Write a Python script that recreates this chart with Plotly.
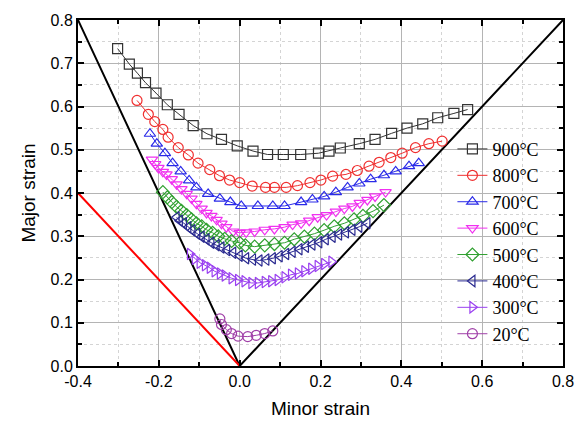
import plotly.graph_objects as go

# ---- data ----
x900 = [-0.302,-0.273,-0.253,-0.233,-0.207,-0.179,-0.150,-0.115,-0.081,-0.045,-0.006,0.033,0.069,0.108,0.151,0.195,0.221,0.249,0.296,0.335,0.376,0.414,0.453,0.490,0.530,0.564]
y900 = [0.734,0.698,0.677,0.655,0.631,0.604,0.582,0.556,0.537,0.524,0.509,0.497,0.489,0.489,0.489,0.492,0.497,0.504,0.514,0.524,0.538,0.550,0.560,0.574,0.584,0.593]

x800 = [-0.254,-0.226,-0.210,-0.190,-0.177,-0.152,-0.127,-0.103,-0.074,-0.050,-0.025,0.000,0.031,0.064,0.086,0.115,0.143,0.174,0.201,0.230,0.263,0.291,0.320,0.345,0.374,0.402,0.435,0.468,0.501]
y800 = [0.614,0.582,0.565,0.547,0.529,0.505,0.488,0.469,0.454,0.440,0.430,0.424,0.416,0.413,0.413,0.413,0.417,0.424,0.430,0.439,0.443,0.452,0.462,0.471,0.482,0.492,0.505,0.514,0.520]

x700 = [-0.222,-0.205,-0.185,-0.166,-0.146,-0.125,-0.107,-0.078,-0.049,-0.023,0.004,0.045,0.082,0.111,0.152,0.180,0.209,0.238,0.267,0.296,0.324,0.357,0.386,0.419,0.443]
y700 = [0.537,0.514,0.492,0.469,0.450,0.429,0.413,0.398,0.387,0.379,0.370,0.370,0.370,0.370,0.379,0.385,0.392,0.402,0.413,0.422,0.432,0.441,0.450,0.462,0.469]

x600 = [-0.217,-0.209,-0.201,-0.190,-0.181,-0.168,-0.156,-0.144,-0.131,-0.119,-0.107,-0.094,-0.082,-0.070,-0.057,-0.045,-0.033,-0.016,0.000,0.016,0.037,0.062,0.086,0.111,0.131,0.152,0.172,0.193,0.215,0.238,0.259,0.279,0.297,0.316,0.335,0.361]
y600 = [0.477,0.467,0.458,0.449,0.443,0.432,0.420,0.409,0.398,0.387,0.375,0.364,0.354,0.347,0.338,0.329,0.321,0.311,0.308,0.309,0.311,0.315,0.317,0.321,0.327,0.330,0.336,0.344,0.349,0.357,0.364,0.369,0.377,0.384,0.392,0.402]

x500 = [-0.190,-0.179,-0.168,-0.156,-0.144,-0.131,-0.119,-0.107,-0.094,-0.082,-0.067,-0.053,-0.037,-0.020,0.000,0.014,0.037,0.062,0.086,0.111,0.135,0.160,0.185,0.209,0.234,0.259,0.283,0.305,0.330,0.357]
y500 = [0.402,0.390,0.379,0.368,0.359,0.349,0.339,0.330,0.323,0.315,0.308,0.300,0.294,0.289,0.285,0.279,0.276,0.279,0.282,0.285,0.293,0.299,0.306,0.314,0.323,0.330,0.339,0.347,0.358,0.372]

x400 = [-0.156,-0.148,-0.138,-0.127,-0.117,-0.105,-0.094,-0.082,-0.070,-0.057,-0.045,-0.031,-0.016,0.000,0.016,0.033,0.049,0.066,0.082,0.099,0.115,0.131,0.148,0.164,0.180,0.197,0.213,0.230,0.246,0.263,0.279,0.296,0.316]
y400 = [0.344,0.336,0.330,0.321,0.314,0.306,0.299,0.293,0.285,0.279,0.274,0.268,0.262,0.255,0.249,0.246,0.244,0.246,0.249,0.254,0.259,0.264,0.270,0.276,0.281,0.286,0.293,0.299,0.304,0.309,0.315,0.322,0.330]

x300 = [-0.123,-0.111,-0.099,-0.086,-0.074,-0.062,-0.049,-0.037,-0.020,-0.004,0.012,0.029,0.045,0.062,0.078,0.094,0.111,0.127,0.144,0.160,0.177,0.193,0.209,0.227]
y300 = [0.259,0.248,0.239,0.233,0.227,0.219,0.214,0.209,0.203,0.199,0.196,0.192,0.192,0.194,0.196,0.199,0.205,0.211,0.214,0.219,0.225,0.231,0.236,0.241]

x20 = [-0.049,-0.045,-0.033,-0.020,-0.004,0.020,0.041,0.062,0.082]
y20 = [0.109,0.096,0.084,0.075,0.069,0.068,0.071,0.075,0.081]

# reference lines
v_x = [-0.4, 0.0, 0.8]
v_y = [0.8, 0.0, 0.8]
red_x = [-0.4, 0.0]
red_y = [0.4, 0.0]

# tick labels
x_tickvals = [-0.4, -0.2, 0.0, 0.2, 0.4, 0.6, 0.8]
x_ticktext = ["-0.4", "-0.2", "0.0", "0.2", "0.4", "0.6", "0.8"]
y_tickvals = [0.0, 0.1, 0.2, 0.3, 0.4, 0.5, 0.6, 0.7, 0.8]
y_ticktext = ["0.0", "0.1", "0.2", "0.3", "0.4", "0.5", "0.6", "0.7", "0.8"]

labels = ["900°C", "800°C", "700°C", "600°C", "500°C", "400°C", "300°C", "20°C"]
xs = [x900, x800, x700, x600, x500, x400, x300, x20]
ys = [y900, y800, y700, y600, y500, y400, y300, y20]
colors = ["#333333", "#f03030", "#2a2ae8", "#f030f0", "#30a030", "#2a2a90", "#9a40f0", "#a040a8"]
symbols = ["square-open", "circle-open", "triangle-up-open", "triangle-down-open",
           "diamond-open", "triangle-left-open", "triangle-right-open", "circle-open"]

fig = go.Figure()

fig.add_trace(go.Scatter(x=v_x, y=v_y, mode="lines", line=dict(color="black", width=2),
                         showlegend=False, hoverinfo="skip"))
fig.add_trace(go.Scatter(x=red_x, y=red_y, mode="lines", line=dict(color="#ff0000", width=2),
                         showlegend=False, hoverinfo="skip"))

for lab, xx, yy, c, s in zip(labels, xs, ys, colors, symbols):
    fig.add_trace(go.Scatter(
        x=xx, y=yy, mode="lines+markers", name=lab,
        line=dict(color=c, width=1),
        marker=dict(symbol=s, size=10, color=c, line=dict(width=1.2, color=c)),
    ))

axis_common = dict(
    showline=True, linecolor="black", linewidth=2, mirror="ticks",
    ticks="inside", ticklen=6, tickwidth=1.5, tickcolor="black",
    showgrid=True, gridcolor="#b4b4b4", gridwidth=1,
    zeroline=False,
    tickfont=dict(family="Liberation Sans, Arial", size=16, color="black"),
)

fig.update_xaxes(
    range=[-0.4, 0.8], tickmode="array", tickvals=x_tickvals, ticktext=x_ticktext,
    title=dict(text="Minor strain", font=dict(family="Liberation Sans, Arial", size=19, color="black"), standoff=12),
    minor=dict(dtick=0.1, tick0=-0.4, ticks="inside", ticklen=4, tickcolor="black", showgrid=True,
               gridcolor="#d4d4d4", griddash="dot", gridwidth=1),
    **axis_common,
)
fig.update_yaxes(
    range=[0, 0.8], tickmode="array", tickvals=y_tickvals, ticktext=y_ticktext,
    title=dict(text="Major strain", font=dict(family="Liberation Sans, Arial", size=19, color="black"), standoff=10),
    minor=dict(dtick=0.05, tick0=0, ticks="inside", ticklen=4, tickcolor="black", showgrid=True,
               gridcolor="#d4d4d4", griddash="dot", gridwidth=1),
    **axis_common,
)

fig.update_layout(
    width=586, height=428,
    margin=dict(l=78, r=20, t=15, b=58),
    plot_bgcolor="white", paper_bgcolor="white",
    legend=dict(x=0.772, y=0.68, xanchor="left", yanchor="top",
                bgcolor="rgba(0,0,0,0)", borderwidth=0,
                font=dict(family="Liberation Serif, Times New Roman", size=18, color="black"),
                tracegroupgap=0),
)

fig.write_html("out.html")
